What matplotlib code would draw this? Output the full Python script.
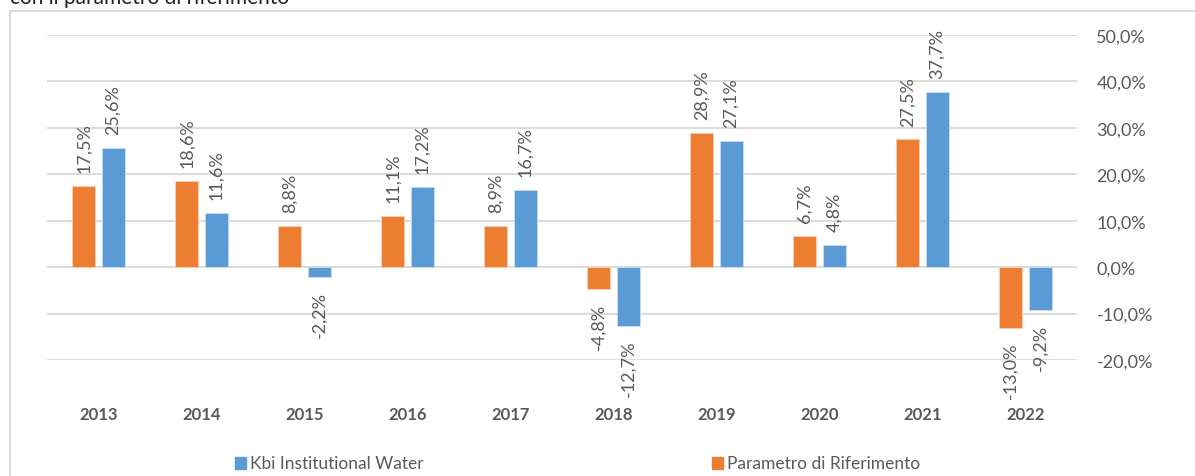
import matplotlib
matplotlib.use("Agg")
import matplotlib.pyplot as plt
import matplotlib.transforms as mtransforms
from matplotlib.patches import Rectangle
from matplotlib.lines import Line2D
import numpy as np

# dati
anni = ["2013", "2014", "2015", "2016", "2017", "2018", "2019", "2020", "2021", "2022"]
parametro = [17.5, 18.6, 8.8, 11.1, 8.9, -4.8, 28.9, 6.7, 27.5, -13.0]
kbi = [25.6, 11.6, -2.2, 17.2, 16.7, -12.7, 27.1, 4.8, 37.7, -9.2]
y_ticks = [-20, -10, 0, 10, 20, 30, 40, 50]

arancio = "#ED7D31"
blu = "#5B9BD5"
grigio = "#595959"
griglia = "#D9D9D9"

plt.rcParams["font.family"] = ["Lato", "DejaVu Sans"]

W, H = 1195, 477
fig = plt.figure(figsize=(W / 100, H / 100), dpi=100)
ax = fig.add_axes([47 / W, 1 - 361 / H, 1030 / W, 325 / H])

x = np.arange(len(anni))
off = 0.143
wd = 0.22
ax.bar(x - off, parametro, wd, color=arancio, edgecolor="#F8D0B5", linewidth=0.6, zorder=3)
ax.bar(x + off, kbi, wd, color=blu, edgecolor="#C9DDF1", linewidth=0.6, zorder=3)

def fmt(v):
    return f"{v:.1f}%".replace(".", ",")

for xs, vals in [(x - off, parametro), (x + off, kbi)]:
    for xi, v in zip(xs, vals):
        if v >= 0:
            ax.annotate(fmt(v), (xi, v), xytext=(0, 10), textcoords="offset points",
                        rotation=90, ha="center", va="bottom", fontsize=13,
                        color=grigio, annotation_clip=False)
        else:
            ax.annotate(fmt(v), (xi, v), xytext=(0, -10), textcoords="offset points",
                        rotation=90, ha="center", va="top", fontsize=13,
                        color=grigio, annotation_clip=False)

ax.set_xlim(-0.5, len(anni) - 0.5)
ax.set_ylim(-20, 50)
ax.set_yticks(y_ticks)
ax.set_yticklabels([fmt(v) for v in y_ticks], fontsize=13, color=grigio)
ax.yaxis.tick_right()
ax.tick_params(axis="y", length=0, pad=14)
ax.set_xticks([])
ax.grid(axis="y", color=griglia, linewidth=1.3, zorder=0)
for s in ax.spines.values():
    s.set_visible(False)

# etichette anni
tr = mtransforms.blended_transform_factory(ax.transData, fig.transFigure)
for xi, a in zip(x, anni):
    ax.text(xi, 1 - 415 / H, a, transform=tr, ha="center", va="center",
            fontsize=12, fontweight="bold", color=grigio)

# legenda
fig.patches.append(Rectangle((235 / W, 1 - 470 / H), 11 / W, 12 / H,
                             transform=fig.transFigure, color=blu))
fig.text(250 / W, 1 - 464 / H, "Kbi Institutional Water", fontsize=12.5,
         color=grigio, va="center", ha="left")
fig.patches.append(Rectangle((712 / W, 1 - 470 / H), 11 / W, 12 / H,
                             transform=fig.transFigure, color=arancio))
fig.text(727 / W, 1 - 464 / H, "Parametro di Riferimento", fontsize=12.5,
         color=grigio, va="center", ha="left")

# cornice dell'area grafico
fig.lines.append(Line2D([10 / W, 1], [1 - 12 / H, 1 - 12 / H], transform=fig.transFigure,
                        color=griglia, linewidth=1.3))
fig.lines.append(Line2D([10 / W, 10 / W], [0, 1 - 12 / H], transform=fig.transFigure,
                        color=griglia, linewidth=1.3))

# titolo tagliato in alto (come nell'originale)
fig.text(10 / W, 1 - 4 / H, "con il parametro di riferimento", fontsize=15,
         color="#222222", va="baseline", ha="left")

fig.savefig("out.png", dpi=100, facecolor="white")
